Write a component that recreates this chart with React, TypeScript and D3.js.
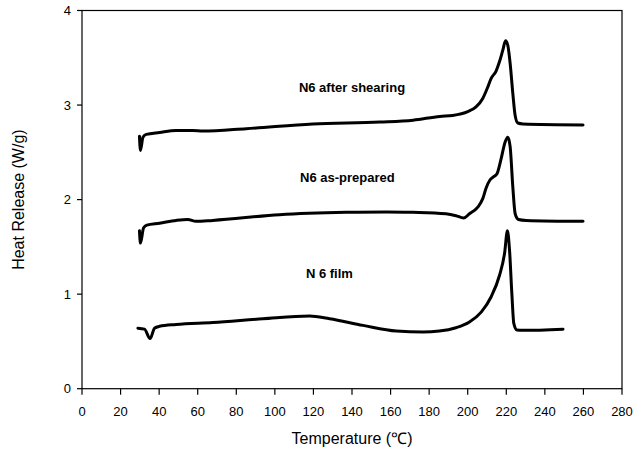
import React from "react";
import * as d3 from "d3";

// ---- data ----
const shearT = [29.8, 30.3, 31.6, 33.3, 40.2, 48.8, 57.4, 62.6, 85.1, 119.7, 154.4, 171.7, 185.6, 192.2, 200, 204.3, 207.8, 210.4, 212.1, 214.7, 216.5, 218.2, 219.6, 220.8, 222, 223.4, 224.6, 226, 228.6, 259.8];
const shearV = [2.67, 2.52, 2.66, 2.69, 2.71, 2.73, 2.73, 2.725, 2.75, 2.80, 2.82, 2.84, 2.88, 2.89, 2.93, 2.98, 3.07, 3.19, 3.28, 3.36, 3.46, 3.58, 3.68, 3.63, 3.44, 3.12, 2.89, 2.81, 2.80, 2.79];

const prepT = [29.8, 30.3, 31.9, 33.6, 40.2, 48.8, 54.8, 59.1, 67.8, 102.4, 137, 157.8, 171.6, 188.7, 193.9, 197.9, 200.9, 205.2, 207.8, 209.5, 211.6, 213.3, 215.1, 217.3, 219.4, 220.8, 222, 223.4, 224.6, 226.3, 230.3, 259.8];
const prepV = [1.67, 1.54, 1.70, 1.73, 1.75, 1.78, 1.79, 1.77, 1.78, 1.84, 1.865, 1.87, 1.865, 1.85, 1.83, 1.805, 1.85, 1.92, 2.01, 2.12, 2.21, 2.24, 2.27, 2.43, 2.61, 2.66, 2.56, 2.13, 1.85, 1.79, 1.78, 1.77];

const filmT = [29, 32.4, 35.3, 37.6, 40.2, 48.8, 67.8, 93.8, 118, 128.4, 145.7, 163, 176.8, 185.3, 193.9, 200.9, 207, 212.1, 216.5, 219.1, 220.6, 221.7, 222.9, 223.9, 225.5, 228.6, 249.4];
const filmV = [0.64, 0.63, 0.53, 0.64, 0.66, 0.68, 0.70, 0.74, 0.77, 0.74, 0.67, 0.61, 0.60, 0.61, 0.645, 0.705, 0.81, 0.97, 1.20, 1.43, 1.67, 1.46, 1.00, 0.69, 0.62, 0.617, 0.63];

const seriesNames = ["N6 after shearing", "N6 as-prepared", "N 6 film"];
const labelT = [140, 137.6, 128.3];
const labelV = [3.135, 2.19, 1.17];

const xTicks = d3.range(0, 281, 20);
const yTicks = [0, 1, 2, 3, 4];

const W = 636, H = 457;
const margin = { left: 82, right: 14, top: 10.5, bottom: 68.3 };

export default function App() {
  const x = d3.scaleLinear().domain([0, 280]).range([margin.left, W - margin.right]);
  const y = d3.scaleLinear().domain([0, 4]).range([H - margin.bottom, margin.top]);
  const line = d3
    .line<[number, number]>()
    .x((d) => x(d[0]))
    .y((d) => y(d[1]))
    .curve(d3.curveMonotoneX);

  const series = [
    d3.zip(shearT, shearV) as [number, number][],
    d3.zip(prepT, prepV) as [number, number][],
    d3.zip(filmT, filmV) as [number, number][],
  ];
  const font = "Arial, 'Liberation Sans', sans-serif";
  const x0 = x(0), x1 = x(280), y0 = y(0), y1 = y(4);

  return (
    <svg width={W} height={H} style={{ position: "absolute", left: 0, top: 0, background: "#fff" }} fontFamily={font}>
      <rect x={0} y={0} width={W} height={H} fill="#fff" />
      <rect x={x0} y={y1} width={x1 - x0} height={y0 - y1} fill="none" stroke="#000" strokeWidth={1.2} />
      {yTicks.map((t) => (
        <g key={"y" + t}>
          <line x1={x0 - 5} x2={x0} y1={y(t)} y2={y(t)} stroke="#000" strokeWidth={1.2} />
          <text x={x0 - 11} y={y(t)} dy="0.35em" textAnchor="end" fontSize={13}>{t}</text>
        </g>
      ))}
      {xTicks.map((t) => (
        <g key={"x" + t}>
          <line x1={x(t)} x2={x(t)} y1={y0} y2={y0 + 6} stroke="#000" strokeWidth={1.2} />
          <text x={x(t)} y={y0 + 27} textAnchor="middle" fontSize={13}>{t}</text>
        </g>
      ))}
      {series.map((s, i) => (
        <path key={"s" + i} d={line(s) || ""} fill="none" stroke="#000" strokeWidth={3} strokeLinejoin="round" strokeLinecap="round" />
      ))}
      {seriesNames.map((n, i) => (
        <text key={"l" + i} x={x(labelT[i])} y={y(labelV[i])} textAnchor="middle" fontSize={13} fontWeight="bold">{n}</text>
      ))}
      <text x={(x0 + x1) / 2} y={444} textAnchor="middle" fontSize={16}>Temperature (℃)</text>
      <text transform={`translate(24,${(y0 + y1) / 2}) rotate(-90)`} textAnchor="middle" fontSize={16}>Heat Release (W/g)</text>
    </svg>
  );
}
